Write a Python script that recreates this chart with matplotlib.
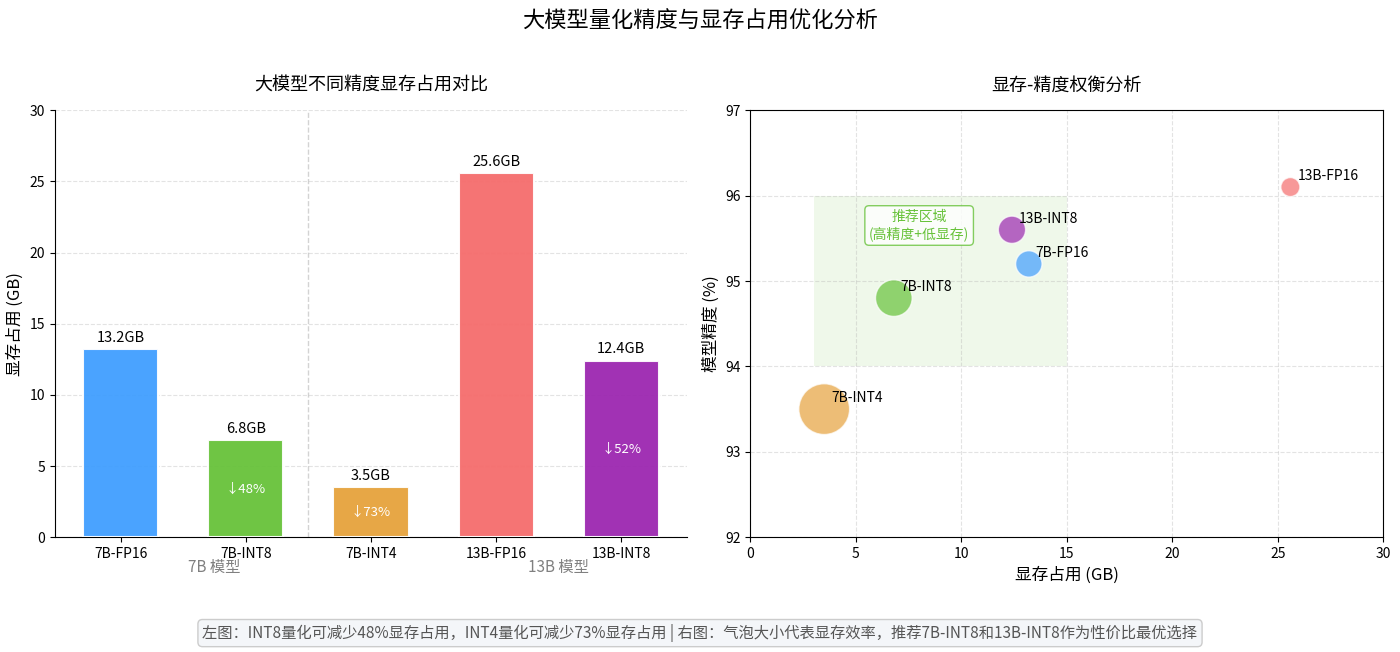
import numpy as np
import matplotlib
matplotlib.use("Agg")
import matplotlib.pyplot as plt
from matplotlib.patches import Rectangle
import matplotlib.transforms as mtransforms

plt.rcParams["font.family"] = ["Noto Sans CJK SC", "DejaVu Sans"]
plt.rcParams["axes.unicode_minus"] = False

# data
models = ["7B-FP16", "7B-INT8", "7B-INT4", "13B-FP16", "13B-INT8"]
memory = [13.2, 6.8, 3.5, 25.6, 12.4]
accuracy = [95.2, 94.8, 93.5, 96.1, 95.6]
reduction = ["", "48%", "73%", "", "52%"]
colors = ["#409EFF", "#67C23A", "#E6A23C", "#F56C6C", "#9C27B0"]
groups = ["7B 模型", "13B 模型"]
group_pos = [0.75, 3.5]

fig = plt.figure(figsize=(14, 6.52), dpi=100)
fig.suptitle("大模型量化精度与显存占用优化分析", fontsize=16, y=0.985)

#####################
### left: bars
#####################
ax1 = fig.add_axes([0.039, 0.176, 0.452, 0.655])
x = np.arange(len(models))
bars = ax1.bar(x, memory, width=0.6, color=colors, alpha=0.95,
               edgecolor="white", linewidth=1.5, zorder=3)
for i, b in enumerate(bars):
    h = b.get_height()
    ax1.text(b.get_x() + b.get_width() / 2, h + 0.3, f"{memory[i]}GB",
             ha="center", va="bottom", fontsize=10.5)
    if reduction[i]:
        ax1.text(b.get_x() + b.get_width() / 2, h / 2, "↓" + reduction[i],
                 ha="center", va="center", fontsize=9.5, color="white")

ax1.set_ylim(0, 30)
ax1.set_xticks(x)
ax1.set_xticklabels(models, fontsize=10)
ax1.tick_params(axis="y", labelsize=10)
ax1.set_ylabel("显存占用 (GB)", fontsize=12)
ax1.set_title("大模型不同精度显存占用对比", fontsize=13, pad=14)
ax1.grid(axis="y", linestyle="--", alpha=0.35, zorder=0)
ax1.axvline(1.5, color="lightgray", linestyle="--", linewidth=1, zorder=1)
ax1.spines["top"].set_visible(False)
ax1.spines["right"].set_visible(False)

trans = mtransforms.blended_transform_factory(ax1.transData, ax1.transAxes)
for g, p in zip(groups, group_pos):
    ax1.text(p, -0.07, g, transform=trans, ha="center", va="center",
             fontsize=11, color="gray")

#####################
### right: bubbles
#####################
ax2 = fig.add_axes([0.536, 0.176, 0.452, 0.655])
sizes = np.array(accuracy) / np.array(memory) * 50
ax2.add_patch(Rectangle((3, 94), 12, 2, facecolor="#67C23A", alpha=0.1,
                        edgecolor="none", zorder=1))
ax2.scatter(memory, accuracy, s=sizes, c=colors, alpha=0.7,
            edgecolors="white", linewidths=1, zorder=3)
for i, m in enumerate(models):
    ax2.annotate(m, (memory[i], accuracy[i]), xytext=(5, 5),
                 textcoords="offset points", fontsize=10, zorder=4)

ax2.text(8, 95.65, "推荐区域\n(高精度+低显存)", ha="center", va="center",
         fontsize=10, color="#67C23A",
         bbox=dict(boxstyle="round,pad=0.3", facecolor="white",
                   edgecolor="#67C23A", alpha=0.8))

ax2.set_xlim(0, 30)
ax2.set_ylim(92, 97)
ax2.tick_params(labelsize=10)
ax2.set_xlabel("显存占用 (GB)", fontsize=12)
ax2.set_ylabel("模型精度 (%)", fontsize=12)
ax2.set_title("显存-精度权衡分析", fontsize=13, pad=14)
ax2.grid(linestyle="--", alpha=0.35, zorder=0)

fig.text(0.5, 0.029,
         "左图：INT8量化可减少48%显存占用，INT4量化可减少73%显存占用 | 右图：气泡大小代表显存效率，推荐7B-INT8和13B-INT8作为性价比最优选择",
         ha="center", va="center", fontsize=11, color="#555555",
         bbox=dict(boxstyle="round,pad=0.3", facecolor="#f4f6f9",
                   edgecolor="#cccccc"))

plt.savefig("out.png", dpi=100)
